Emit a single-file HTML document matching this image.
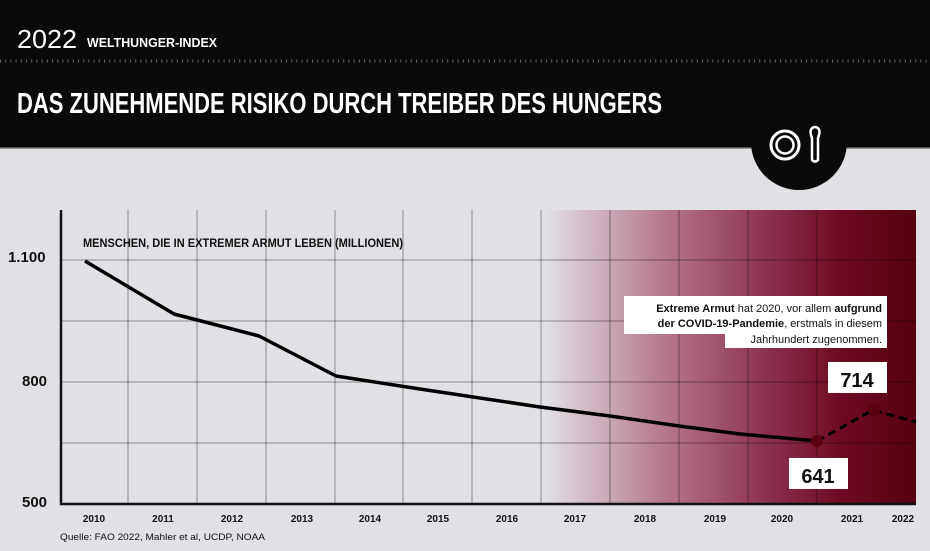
<!DOCTYPE html>
<html><head><meta charset="utf-8"><style>
body{margin:0;width:930px;height:551px;overflow:hidden;background:#e1e0e5;font-family:"Liberation Sans",sans-serif}
</style></head><body>
<svg width="930" height="551" viewBox="0 0 930 551" xmlns="http://www.w3.org/2000/svg" style="position:absolute;left:0;top:0">
<defs>
<linearGradient id="g" x1="0" x2="1" y1="0" y2="0">
<stop offset="0" stop-color="#e1e0e5"/>
<stop offset="0.3" stop-color="#b87e92"/>
<stop offset="0.6" stop-color="#8c3050"/>
<stop offset="0.8" stop-color="#6e0a22"/>
<stop offset="1" stop-color="#560010"/>
</linearGradient>
</defs>
<rect x="0" y="0" width="930" height="148" fill="#0a0a0a"/>
<rect x="0" y="147" width="930" height="1.5" fill="#555"/>
<text x="17" y="48" fill="#fff" font-size="26" textLength="60" lengthAdjust="spacingAndGlyphs">2022</text>
<text x="87" y="47" fill="#fff" font-size="13" font-weight="bold" textLength="130" lengthAdjust="spacingAndGlyphs">WELTHUNGER-INDEX</text>
<line x1="0" y1="61" x2="930" y2="61" stroke="#666" stroke-width="3" stroke-dasharray="1 4.2"/>
<text x="17" y="113" fill="#fff" font-size="29" font-weight="bold" textLength="645" lengthAdjust="spacingAndGlyphs">DAS ZUNEHMENDE RISIKO DURCH TREIBER DES HUNGERS</text>
<circle cx="799" cy="142" r="48" fill="#0a0a0a"/>
<circle cx="785" cy="145" r="14" fill="none" stroke="#fff" stroke-width="3"/>
<circle cx="785" cy="145" r="8.5" fill="none" stroke="#fff" stroke-width="2.5"/>
<path d="M812 138 Q808 128 815 127 Q822 128 818 138 L818 160 Q815 163 812 160 Z" fill="none" stroke="#fff" stroke-width="2.5"/>
<rect x="545" y="210" width="371" height="294" fill="url(#g)"/>
<g stroke="#000" stroke-opacity="0.25" stroke-width="1.5">
<line x1="128" y1="210" x2="128" y2="504"/><line x1="197" y1="210" x2="197" y2="504"/>
<line x1="266" y1="210" x2="266" y2="504"/><line x1="335" y1="210" x2="335" y2="504"/>
<line x1="403" y1="210" x2="403" y2="504"/><line x1="472" y1="210" x2="472" y2="504"/>
<line x1="541" y1="210" x2="541" y2="504"/><line x1="610" y1="210" x2="610" y2="504"/>
<line x1="679" y1="210" x2="679" y2="504"/><line x1="748" y1="210" x2="748" y2="504"/>
<line x1="817" y1="210" x2="817" y2="504"/>
<line x1="61" y1="260" x2="916" y2="260"/><line x1="61" y1="321" x2="916" y2="321"/>
<line x1="61" y1="382" x2="916" y2="382"/><line x1="61" y1="443" x2="916" y2="443"/>
</g>
<line x1="61" y1="210" x2="61" y2="505" stroke="#111" stroke-width="2.5"/>
<line x1="60" y1="504" x2="916" y2="504" stroke="#111" stroke-width="2.5"/>
<g font-weight="bold" fill="#111" font-size="15">
<text x="8" y="262">1.100</text><text x="22" y="386">800</text><text x="22" y="507">500</text>
</g>
<g font-weight="bold" fill="#111" font-size="10" text-anchor="middle">
<text x="94" y="522">2010</text><text x="163" y="522">2011</text><text x="232" y="522">2012</text>
<text x="302" y="522">2013</text><text x="370" y="522">2014</text><text x="438" y="522">2015</text>
<text x="507" y="522">2016</text><text x="575" y="522">2017</text><text x="645" y="522">2018</text>
<text x="715" y="522">2019</text><text x="782" y="522">2020</text><text x="852" y="522">2021</text>
<text x="903" y="522">2022</text>
</g>
<text x="60" y="540" font-size="9.5" fill="#111" textLength="205" lengthAdjust="spacingAndGlyphs">Quelle: FAO 2022, Mahler et al, UCDP, NOAA</text>
<text x="83" y="247" font-size="12" font-weight="bold" fill="#111" textLength="320" lengthAdjust="spacingAndGlyphs">MENSCHEN, DIE IN EXTREMER ARMUT LEBEN (MILLIONEN)</text>
<polyline points="85,261 174,314 259,336 336,376 420,389 540,407 610,416 679,426 740,434 817,441" fill="none" stroke="#000" stroke-width="3.5" stroke-linejoin="round"/>
<polyline points="817,441 873,410 916,422" fill="none" stroke="#000" stroke-width="3" stroke-dasharray="8 5"/>
<circle cx="817" cy="441" r="6" fill="#5a0010"/>
<circle cx="874" cy="410" r="6" fill="#5a0010"/>
<rect x="624" y="296" width="263" height="38" fill="#fff"/>
<rect x="725" y="330" width="162" height="18" fill="#fff"/>
<g font-size="11" fill="#111" text-anchor="end">
<text x="882" y="312"><tspan font-weight="bold">Extreme Armut</tspan> hat 2020, vor allem <tspan font-weight="bold">aufgrund</tspan></text>
<text x="882" y="327"><tspan font-weight="bold">der COVID-19-Pandemie</tspan>, erstmals in diesem</text>
<text x="882" y="343">Jahrhundert zugenommen.</text>
</g>
<rect x="828" y="362" width="59" height="31" fill="#fff"/>
<text x="857" y="387" font-size="20" font-weight="bold" text-anchor="middle" fill="#111">714</text>
<rect x="789" y="458" width="59" height="31" fill="#fff"/>
<text x="818" y="483" font-size="20" font-weight="bold" text-anchor="middle" fill="#111">641</text>
</svg>
</body></html>
